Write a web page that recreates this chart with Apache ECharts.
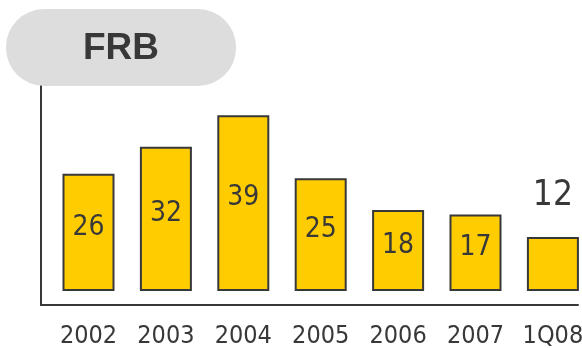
<!DOCTYPE html>
<html>
<head>
<meta charset="utf-8">
<script src="https://cdn.jsdelivr.net/npm/echarts@6/dist/echarts.min.js"></script>
<style>
  html, body { margin: 0; padding: 0; background: #ffffff; }
  #chart { width: 582px; height: 348px; }
</style>
</head>
<body>
<div id="chart"></div>
<script>
// Yearly values for FRB, with the first quarter of 2008 last
const categories = ['2002', '2003', '2004', '2005', '2006', '2007', '1Q08'];
const values = [26, 32, 39, 25, 18, 17, 12];

const narrow = '"DejaVu Sans Condensed", "Liberation Sans Narrow", sans-serif';
const ink = '#383838';

// The last bar carries its value above it, the others inside
const barData = values.map(function (v, i) {
  if (i === values.length - 1) {
    return {
      value: v,
      label: { position: 'top', distance: 23, fontSize: 35, lineHeight: 36, offset: [0, 0] }
    };
  }
  return v;
});

const chart = echarts.init(document.getElementById('chart'), null, { renderer: 'canvas' });

chart.setOption({
  animation: false,
  backgroundColor: '#ffffff',
  title: {
    text: 'FRB',
    left: 6,
    top: 9,
    backgroundColor: '#dddddd',
    borderRadius: 38,
    padding: [21, 77, 19, 77],
    z: 10,
    textStyle: {
      fontFamily: '"Liberation Sans", Arial, sans-serif',
      fontWeight: 'bold',
      fontSize: 37,
      lineHeight: 37,
      color: ink
    }
  },
  grid: [
    // frame: the L-shaped axis lines
    { left: 41, right: 4, top: 80, bottom: 43, outerBoundsMode: 'none' },
    // bars
    { left: 49.8, width: 541.8, top: 86, bottom: 57, outerBoundsMode: 'none' }
  ],
  xAxis: [
    {
      gridIndex: 0,
      type: 'category',
      data: [],
      axisLine: { show: true, lineStyle: { color: ink, width: 2 } },
      axisTick: { show: false },
      axisLabel: { show: false },
      splitLine: { show: false }
    },
    {
      gridIndex: 1,
      type: 'category',
      data: categories,
      axisLine: { show: false, onZero: false },
      axisTick: { show: false },
      axisLabel: {
        interval: 0,
        margin: 33,
        fontFamily: narrow,
        fontSize: 25,
        color: ink
      }
    }
  ],
  yAxis: [
    {
      gridIndex: 0,
      type: 'value',
      min: 0,
      max: 1,
      axisLine: { show: true, lineStyle: { color: ink, width: 2 } },
      axisTick: { show: false },
      axisLabel: { show: false },
      splitLine: { show: false }
    },
    {
      gridIndex: 1,
      type: 'value',
      min: 0,
      max: 45.5,
      axisLine: { show: false },
      axisTick: { show: false },
      axisLabel: { show: false },
      splitLine: { show: false }
    }
  ],
  series: [
    {
      type: 'bar',
      xAxisIndex: 1,
      yAxisIndex: 1,
      data: barData,
      barWidth: 52,
      itemStyle: { color: '#ffcc00', borderColor: ink, borderWidth: 2 },
      label: {
        show: true,
        position: 'inside',
        offset: [0, -5],
        fontFamily: narrow,
        fontSize: 28,
        color: ink
      }
    }
  ]
});
</script>
</body>
</html>
